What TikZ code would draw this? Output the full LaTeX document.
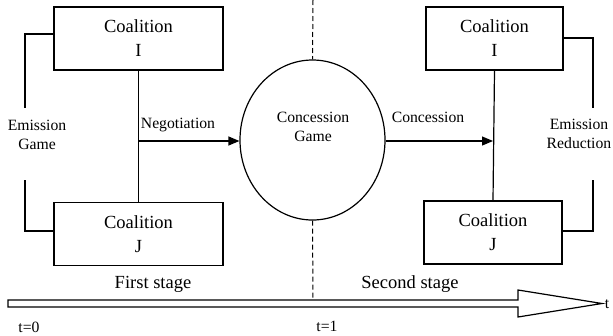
\documentclass[tikz,border=0pt]{standalone}
\usepackage{fontspec}
\setmainfont{Liberation Serif}
\usetikzlibrary{shapes.geometric,arrows.meta}
\tikzset{
  coalbox/.style={draw, line width=1.2pt, minimum width=169pt, minimum height=63pt, align=center, font=\fontsize{18.5}{24}\selectfont},
  lbl/.style={align=center, font=\fontsize{15.7}{19}\selectfont},
  conn/.style={line width=1.2pt},
  flow/.style={line width=1.2pt, -{Triangle[length=11pt,width=9pt]}}
}
\begin{document}
\begin{tikzpicture}[x=1pt,y=-1pt]
	\useasboundingbox (0,0) rectangle (613,335);
	% coalitions
	\node[coalbox] (iA) at (138.5,38.5) {Coalition\\I};
	\node[coalbox] (jA) at (138.5,234) {Coalition\\J};
	\node[coalbox, minimum width=137pt] (iB) at (494.5,38.5) {Coalition\\I};
	\node[coalbox, minimum width=138pt] (jB) at (493,232.5) {Coalition\\J};
	\node[draw, ellipse, line width=1.2pt, minimum width=145pt, minimum height=160pt] (game) at (312.5,140) {};
	\node[lbl] (gametxt) at (313,127) {Concession\\Game};
	% labels
	\node[lbl] (emis) at (37,135) {Emission\\Game};
	\node[lbl] (red) at (579,134) {Emission\\Reduction};
	\node[lbl] (neg) at (178,125) {Negotiation};
	\node[lbl] (conc) at (428,117) {Concession};
	\node[lbl, font=\fontsize{18.5}{22}\selectfont] (st1) at (153,284) {First stage};
	\node[lbl, font=\fontsize{18.5}{22}\selectfont] (st2) at (410,284) {Second stage};
	\node[lbl] (t0) at (29,327) {t=0};
	\node[lbl] (t1) at (327,326) {t=1};
	\node[lbl] (t) at (607,304) {t};
	% links
	\draw[conn] (iA.south) -- (jA.north);
	\draw[conn] (iB.south) -- (jB.north);
	\coordinate (nA) at (139,141);
	\coordinate (nB) at (493,141);
	\draw[flow] (nA) -- (game.west |- nA);
	\draw[flow] (game.east |- nB) -- (nB);
	\draw[conn] (iA.west |- 0,34) -- (25,34) -- (25,108);
	\draw[conn] (25,180) -- (25,231) -- (jA.west |- 0,231);
	\draw[conn] (iB.east |- 0,38) -- (593,38) -- (593,108);
	\draw[conn] (593,180) -- (593,231) -- (jB.east |- 0,231);
	% time axis
	\draw[dash pattern=on 5pt off 3pt, line width=1pt] (313,0) -- (game.north);
	\draw[dash pattern=on 5pt off 3pt, line width=1pt] (game.south) -- (313,300);
	\draw[conn, line join=miter] (8,300) -- (518,300) -- (518,290) -- (602,303.5) -- (518,317) -- (518,307) -- (8,307) -- cycle;
\end{tikzpicture}
\end{document}
